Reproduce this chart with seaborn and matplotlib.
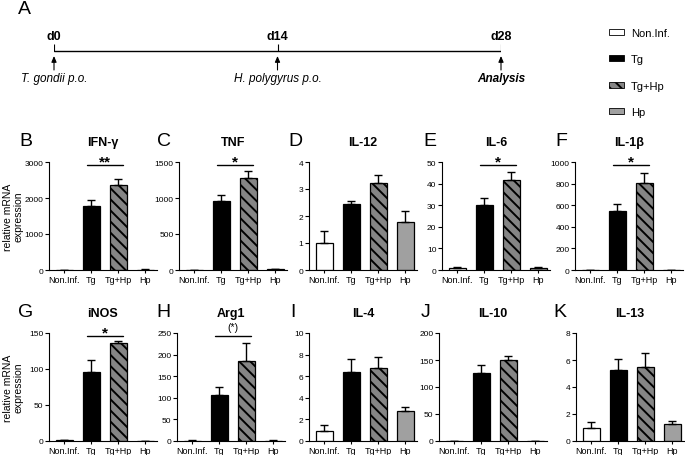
import matplotlib
matplotlib.use("Agg")
import matplotlib.pyplot as plt
import seaborn as sns
import numpy as np
from matplotlib.patches import Patch

# groups
groups = ["Non.Inf.", "Tg", "Tg+Hp", "Hp"]

# timeline
days = [0, 14, 28]
day_labels = ["d0", "d14", "d28"]
events = ["T. gondii p.o.", "H. polygyrus p.o.", "Analysis"]

# relative mRNA expression (mean, upper error)
ifng_mean = [1, 1774, 2359, 12]
ifng_err = [0, 158, 176, 4]
tnf_mean = [1, 960, 1278, 8]
tnf_err = [0, 88, 97, 3]
il12_mean = [1.0, 2.46, 3.24, 1.78]
il12_err = [0.46, 0.11, 0.29, 0.40]
il6_mean = [0.8, 29.9, 41.5, 0.8]
il6_err = [0.4, 3.5, 3.9, 0.5]
il1b_mean = [1, 545, 802, 1]
il1b_err = [0, 68, 99, 0]
inos_mean = [1, 96, 136, 0.5]
inos_err = [0.6, 17, 3, 0]
arg1_mean = [1, 106, 185, 1]
arg1_err = [0.5, 18, 42, 0.5]
il4_mean = [0.9, 6.4, 6.8, 2.82]
il4_err = [0.6, 1.2, 0.94, 0.34]
il10_mean = [0.5, 125.5, 150.8, 0.5]
il10_err = [0.3, 16, 7.2, 0.3]
il13_mean = [0.96, 5.29, 5.49, 1.28]
il13_err = [0.47, 0.79, 1.03, 0.17]

titles = ["IFN-γ", "TNF", "IL-12", "IL-6", "IL-1β", "iNOS", "Arg1", "IL-4", "IL-10", "IL-13"]
letters = list("BCDEFGHIJK")
ymaxs = [3000, 1500, 4, 50, 1000, 150, 250, 10, 200, 8]
ysteps = [1000, 500, 1, 10, 200, 50, 50, 2, 50, 2]
sig = ["**", "*", "", "*", "*", "*", "(*)", "", "", ""]
means = [ifng_mean, tnf_mean, il12_mean, il6_mean, il1b_mean,
         inos_mean, arg1_mean, il4_mean, il10_mean, il13_mean]
errs = [ifng_err, tnf_err, il12_err, il6_err, il1b_err,
        inos_err, arg1_err, il4_err, il10_err, il13_err]

sns.set_style("ticks", rc={"text.color": "black", "xtick.color": "black",
                           "ytick.color": "black", "axes.edgecolor": "black",
                           "axes.labelcolor": "black"})
plt.rcParams["font.family"] = ["Liberation Sans", "DejaVu Sans"]
plt.rcParams["hatch.linewidth"] = 1.4
plt.rcParams["axes.linewidth"] = 0.8

W, H = 685, 456
bar_colors = ["white", "black", "#858585", "#a0a0a0"]
palette = dict(zip(groups, bar_colors))
hatch = "\\\\\\"


def px_rect(left, top, w, h):
    return [left / W, 1 - (top + h) / H, w / W, h / H]


fig = plt.figure(figsize=(W / 100, H / 100), dpi=100)

# --- panel A: timeline ---
fig.text(18 / W, 1 - 9 / H, "A", fontsize=14, ha="left", va="center")
ax0 = fig.add_axes(px_rect(54, 30, 447, 60))
ax0.set_xlim(days[0], days[-1])
ax0.set_ylim(90, 30)
ax0.axis("off")
ax0.plot([days[0], days[-1]], [52, 52], color="black", lw=1)
ax0.vlines(days, 45, 52, color="black", lw=0.8)
styles = [("italic", "normal"), ("italic", "normal"), ("italic", "bold")]
for d, lab, ev, (st, wt) in zip(days, day_labels, events, styles):
    ax0.text(d, 37, lab, fontsize=9, fontweight="bold", ha="center", va="center")
    ax0.annotate("", xy=(d, 57), xytext=(d, 71),
                 arrowprops=dict(arrowstyle="-|>,head_length=0.35,head_width=0.15",
                                 color="black", lw=0.8, shrinkA=0, shrinkB=0))
    ax0.text(d, 79, ev, fontsize=8.5, style=st, fontweight=wt, ha="center", va="center")

# legend
handles = [Patch(facecolor=c, edgecolor="black", lw=0.6) for c in bar_colors]
handles[2].set_hatch(hatch)
fig.legend(handles, groups, loc="upper left", bbox_to_anchor=(609 / W, 1 - 29 / H),
           frameon=False, fontsize=8, handlelength=1.35, handleheight=0.45,
           handletextpad=0.6, labelspacing=1.47, borderaxespad=0, borderpad=0)

# --- bar panels ---
lefts = [49, 179, 309, 442, 575, 49, 177, 309, 439, 576]
tops = [163] * 5 + [334] * 5
letter_x = [19, 157, 288, 423, 555, 18, 156, 290, 421, 553]

for i in range(10):
    ax = fig.add_axes(px_rect(lefts[i], tops[i], 108, 108))
    sns.barplot(x=groups, y=means[i], hue=groups, palette=palette, legend=False,
                width=0.63, edgecolor="black", linewidth=0.9, saturation=1,
                errorbar=None, ax=ax)
    ax.patches[2].set_hatch(hatch)
    ax.errorbar(np.arange(4), means[i], yerr=[np.zeros(4), errs[i]], fmt="none",
                ecolor="black", elinewidth=1, capsize=2.8, capthick=1, zorder=5)
    ymax = ymaxs[i]
    ax.set_xlim(-0.56, 3.44)
    ax.set_ylim(0, ymax)
    ax.set_yticks(np.arange(0, ymax + ysteps[i] / 2, ysteps[i]))
    ax.set_xlabel("")
    ax.set_ylabel("")
    sns.despine(ax=ax)
    ax.tick_params(axis="y", length=3, width=0.8, pad=1, labelsize=6)
    ax.tick_params(axis="x", length=2, width=0.8, pad=1.5, labelsize=6.5)
    ax.text(0.5, 1 + 20 / 108, titles[i], transform=ax.transAxes, fontsize=9,
            fontweight="bold", ha="center", va="center")
    fig.text(letter_x[i] / W, 1 - (tops[i] - 21) / H, letters[i], fontsize=14,
             ha="left", va="center")
    if sig[i]:
        ly = 0.97 * ymax
        ax.plot([0.83, 2.17], [ly, ly], color="black", lw=1, clip_on=False)
        if sig[i] == "(*)":
            ax.annotate(sig[i], (1.5, ly), xytext=(0, 4.5), textcoords="offset points",
                        fontsize=7.5, ha="center", va="baseline", annotation_clip=False)
        else:
            ax.annotate(sig[i], (1.5, ly), xytext=(0, 0), textcoords="offset points",
                        fontsize=11, fontweight="bold", ha="center", va="baseline",
                        annotation_clip=False)

for top in [163, 334]:
    fig.text(13.5 / W, 1 - (top + 54) / H, "relative mRNA\nexpression", fontsize=7.5,
             rotation=90, ha="center", va="center", linespacing=1.0)

fig.savefig("out.png", dpi=100)
